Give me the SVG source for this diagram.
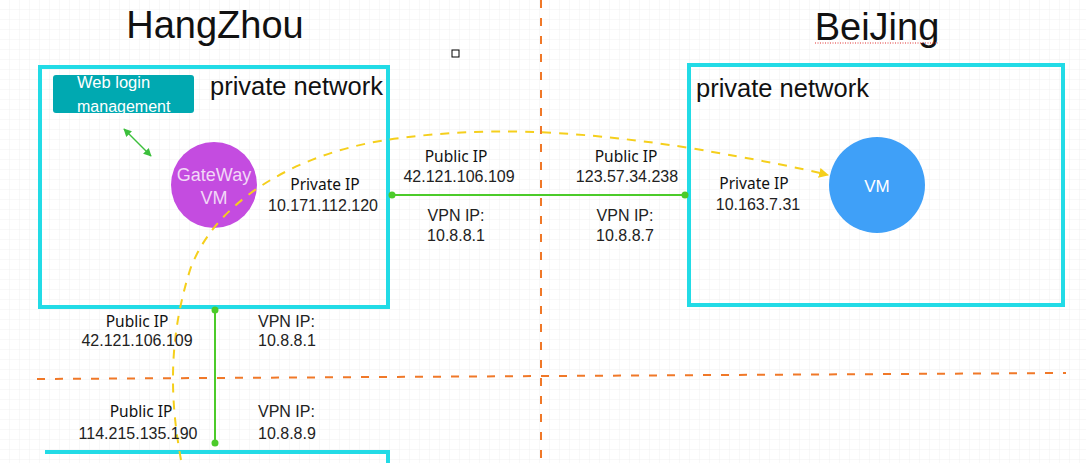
<svg xmlns="http://www.w3.org/2000/svg" width="1086" height="463" viewBox="0 0 1086 463">
<defs>
<pattern id="grid" width="10" height="10" patternUnits="userSpaceOnUse">
<path d="M10 0V10H0" fill="none" stroke="#f1f1f1" stroke-width="1"/>
</pattern>
<marker id="yarr" viewBox="0 0 10 10" refX="9" refY="5" markerWidth="10" markerHeight="10" markerUnits="userSpaceOnUse" orient="auto">
<path d="M0 0L10 5L0 10Z" fill="#f5cf1c"/>
</marker>
<marker id="garr" viewBox="0 0 10 10" refX="9" refY="5" markerWidth="8" markerHeight="8" markerUnits="userSpaceOnUse" orient="auto-start-reverse">
<path d="M0 0L10 5L0 10Z" fill="#3cbf3c"/>
</marker>
</defs>
<style>
.box{fill:none;stroke:#22dbe6;stroke-width:4}
.title{font-family:"Liberation Sans",Arial,sans-serif;font-size:38px;fill:#111}
.pn{font-family:"Liberation Sans",Arial,sans-serif;font-size:25.5px;fill:#111}
.lbl{font-family:"Noto Sans","Open Sans",sans-serif;font-size:15.5px;fill:#111;text-anchor:middle}
.num{font-family:"Liberation Sans",Arial,sans-serif;font-size:16px;fill:#222;text-anchor:middle}
.lft{text-anchor:start}
.orange{stroke:#f07828;stroke-width:2;stroke-dasharray:8 10;fill:none}
.green{stroke:#4ccb2a;stroke-width:2;fill:none}
.dot{fill:#4ccb2a}
</style>
<rect width="1086" height="463" fill="#fff"/>
<rect width="1086" height="463" fill="url(#grid)"/>

<g id="dividers">
<line class="orange" x1="541" y1="0" x2="541" y2="463"/>
<line class="orange" x1="37" y1="379" x2="1066" y2="373"/>
</g>

<g id="titles">
<text class="title" x="215" y="38" text-anchor="middle">HangZhou</text>
<text class="title" x="877" y="40" text-anchor="middle">BeiJing</text>
<line x1="815" y1="43" x2="938" y2="43" stroke="#e03030" stroke-width="1" stroke-dasharray="1 1.5"/>
</g>

<rect x="452" y="50" width="7" height="7" fill="#fff" stroke="#000" stroke-width="1"/>

<g id="hangzhou-network">
<rect class="box" x="40" y="67" width="348" height="240"/>
<text class="pn" x="210" y="95">private network</text>
</g>

<g id="beijing-network">
<rect class="box" x="689" y="65" width="374" height="240"/>
<text class="pn" x="696" y="97">private network</text>
</g>

<g id="bottom-network">
<path class="box" d="M45 452H388V463"/>
</g>

<g id="web-login">
<rect x="53" y="75" width="141" height="38" rx="3" fill="#00a9b1"/>
<text x="77" y="88" font-family="Liberation Sans,Arial,sans-serif" font-size="16.5" fill="#fff">Web login</text>
<text x="77" y="112" font-family="Liberation Sans,Arial,sans-serif" font-size="16" fill="#fff">management</text>
</g>

<g id="gateway-vm">
<circle cx="214" cy="185" r="43" fill="#c44ce0"/>
<text x="214" y="181" font-family="Liberation Sans,Arial,sans-serif" font-size="18" fill="#f2d8f7" text-anchor="middle">GateWay</text>
<text x="214" y="204" font-family="Liberation Sans,Arial,sans-serif" font-size="18" fill="#f2d8f7" text-anchor="middle">VM</text>
</g>

<g id="vm">
<circle cx="877" cy="185" r="48" fill="#3fa0f8"/>
<text x="877" y="192" font-family="Liberation Sans,Arial,sans-serif" font-size="17" fill="#fff" text-anchor="middle">VM</text>
</g>

<g id="connectors">
<line x1="124" y1="129" x2="151" y2="156" stroke="#3cbf3c" stroke-width="1.5" marker-start="url(#garr)" marker-end="url(#garr)"/>
<line class="green" x1="392" y1="195" x2="685" y2="195"/>
<circle class="dot" cx="392" cy="195" r="3.5"/>
<circle class="dot" cx="685" cy="195" r="3.5"/>
<line class="green" x1="215" y1="310" x2="215" y2="443"/>
<circle class="dot" cx="215" cy="310" r="3.5"/>
<circle class="dot" cx="215" cy="443" r="3.5"/>
<path d="M181 460C170 400 168 340 190 270C215 200 300 150 400 138C480 128 560 128 690 148C760 160 800 168 828 175" fill="none" stroke="#f5cf1c" stroke-width="2" stroke-dasharray="9 8" marker-end="url(#yarr)"/>
</g>

<g id="labels">
<text class="lbl" x="325" y="190">Private IP</text>
<text class="num" x="323" y="211">10.171.112.120</text>
<text class="lbl" x="456" y="162">Public IP</text>
<text class="num" x="459" y="182">42.121.106.109</text>
<text class="num" x="456" y="221">VPN IP:</text>
<text class="num" x="456" y="241">10.8.8.1</text>
<text class="lbl" x="626" y="162">Public IP</text>
<text class="num" x="627" y="182">123.57.34.238</text>
<text class="num" x="625" y="221">VPN IP:</text>
<text class="num" x="625" y="241">10.8.8.7</text>
<text class="lbl" x="754" y="189">Private IP</text>
<text class="num" x="758" y="210">10.163.7.31</text>
<text class="lbl" x="137" y="327">Public IP</text>
<text class="num" x="137" y="346">42.121.106.109</text>
<text class="num lft" x="258" y="327">VPN IP:</text>
<text class="num lft" x="258" y="346">10.8.8.1</text>
<text class="lbl" x="141" y="417">Public IP</text>
<text class="num" x="138" y="439">114.215.135.190</text>
<text class="num lft" x="258" y="417">VPN IP:</text>
<text class="num lft" x="258" y="439">10.8.8.9</text>
</g>
</svg>
